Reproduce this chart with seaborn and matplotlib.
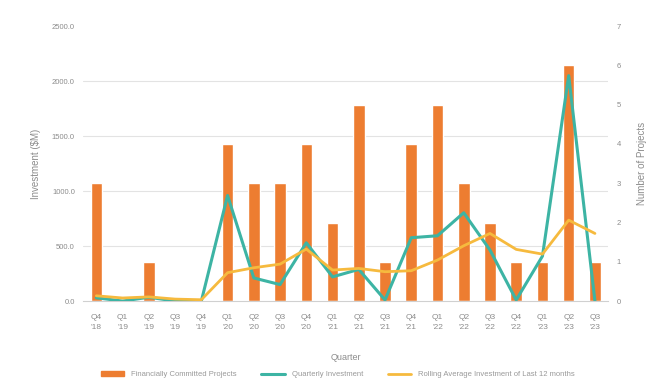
import matplotlib.pyplot as plt
import matplotlib.lines as mlines
import matplotlib.patches as mpatches
import numpy as np
import pandas as pd
import seaborn as sns

# data
quarters = ["Q4\n'18", "Q1\n'19", "Q2\n'19", "Q3\n'19", "Q4\n'19",
            "Q1\n'20", "Q2\n'20", "Q3\n'20", "Q4\n'20",
            "Q1\n'21", "Q2\n'21", "Q3\n'21", "Q4\n'21",
            "Q1\n'22", "Q2\n'22", "Q3\n'22", "Q4\n'22",
            "Q1\n'23", "Q2\n'23", "Q3\n'23"]
projects = [3, 0, 1, 0, 0, 4, 3, 3, 4, 2, 5, 1, 4, 5, 3, 2, 1, 1, 6, 1]
quarterly_inv = [30, 0, 35, 0, 0, 960, 210, 150, 530, 220, 288, 10, 576, 594,
                 803, 464, 10, 409, 2050, 0]
rolling_inv = [48, 28, 38, 18, 12, 258, 303, 336, 473, 282, 297, 267, 276, 373,
               503, 615, 470, 427, 736, 615]

df = pd.DataFrame({"quarter": quarters, "projects": projects,
                   "quarterly": quarterly_inv, "rolling": rolling_inv,
                   "pos": np.arange(len(quarters))})

orange = "#ED7D31"
teal = "#3DB4A4"
yellow = "#F6BA3E"
grey = "#8C8C8C"

sns.set_style("white")
plt.rcParams['font.family'] = ['Liberation Sans', 'DejaVu Sans']

fig = plt.figure(figsize=(6.66, 3.85), dpi=100)
ax = fig.add_axes([0.125, 0.218, 0.788, 0.714])

# bars: number of projects (right axis)
sns.barplot(data=df, x="quarter", y="projects", color=orange, width=0.44,
            saturation=1, ax=ax, zorder=2)

# lines: investment (left axis)
ax2 = ax.twinx()
sns.lineplot(data=df, x="pos", y="quarterly", color=teal, linewidth=2.2, ax=ax2)
sns.lineplot(data=df, x="pos", y="rolling", color=yellow, linewidth=2.0, ax=ax2)

ax.set_ylim(0, 7)
ax.set_xlim(-0.5, len(quarters) - 0.5)
ax.yaxis.tick_right()
ax.yaxis.set_label_position("right")
ax.set_yticks(range(0, 8))
ax.set_ylabel("Number of Projects", color=grey, fontsize=7, labelpad=12)
ax.set_xlabel("Quarter", color=grey, fontsize=6.5, labelpad=16)
ax.tick_params(axis="y", colors=grey, labelsize=5.5, length=0, pad=6)
ax.tick_params(axis="x", colors=grey, labelsize=6, length=0, pad=9)
for lab in ax.get_xticklabels():
    lab.set_linespacing(1.7)
# grid following the investment axis (500 steps = 1.4 projects)
ax.set_yticks(np.arange(0, 7.01, 7 / 5), minor=True)
ax.grid(which="minor", axis="y", color="#E3E3E3", linewidth=0.8, zorder=0)
ax.set_axisbelow(True)
# boundary ticks on x
ax.set_xticks(np.arange(-0.5, len(quarters), 1), minor=True)
ax.tick_params(axis="x", which="minor", length=4, color="#D0D0D0", width=0.8)
ax.tick_params(axis="y", which="minor", length=0)
for s in ["left", "right", "top"]:
    ax.spines[s].set_visible(False)
ax.spines["bottom"].set_color("#D0D0D0")
ax.spines["bottom"].set_linewidth(0.8)

ax2.set_ylim(0, 2500)
ax2.set_xlim(-0.5, len(quarters) - 0.5)
ax2.yaxis.tick_left()
ax2.yaxis.set_label_position("left")
ax2.set_yticks(range(0, 2501, 500))
ax2.set_yticklabels([f"{v:.1f}" for v in range(0, 2501, 500)])
ax2.set_ylabel("Investment ($M)", color=grey, fontsize=7, labelpad=8)
ax2.set_xlabel("")
ax2.tick_params(axis="y", colors=grey, labelsize=5.5, length=0, pad=6)
for s in ["left", "right", "top", "bottom"]:
    ax2.spines[s].set_visible(False)

handles = [mpatches.Patch(color=orange, label="Financially Committed Projects"),
           mlines.Line2D([], [], color=teal, linewidth=2.2, label="Quarterly Investment"),
           mlines.Line2D([], [], color=yellow, linewidth=2.0,
                         label="Rolling Average Investment of Last 12 months")]
leg = fig.legend(handles=handles, loc="center", bbox_to_anchor=(0.507, 0.027),
                 ncol=3, frameon=False, fontsize=5.5, handlelength=3.1,
                 columnspacing=3.2, handletextpad=0.9)
for t in leg.get_texts():
    t.set_color("#999999")

fig.savefig("out.png", dpi=100)
